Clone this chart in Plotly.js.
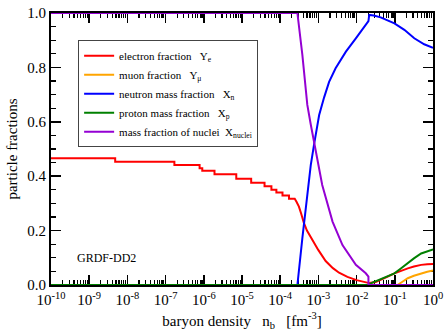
<!DOCTYPE html>
<html><head><meta charset="utf-8">
<script src="https://cdn.plot.ly/plotly-3.0.1.min.js"></script>
<style>body{margin:0;background:#fff}</style></head>
<body><div id="chart" style="width:444px;height:334px"></div>
<script>
// log10 of baryon density (fm^-3) and fractions
const yeLogN = [-10,-8.32,-8.32,-6.77,-6.77,-6.11,-6.11,-6.04,-6.04,-5.72,-5.72,-5.15,-5.15,-4.76,-4.76,-4.41,-4.41,-4.23,-4.23,-4.10,-4.10,-3.94,-3.94,-3.77,-3.77,-3.62,
  -3.57,-3.51,-3.45,-3.38,-3.30,-3.20,-3.10,-3.00,-2.81,-2.62,-2.46,-2.24,-2.00,-1.85,-1.71,-1.67,-1.50,-1.37,-1.20,-1.01,-0.85,-0.66,-0.50,-0.31,-0.15,0];
const yeVal = [0.466,0.466,0.453,0.453,0.441,0.441,0.429,0.429,0.420,0.420,0.407,0.407,0.391,0.391,0.376,0.376,0.363,0.363,0.350,0.350,0.340,0.340,0.329,0.329,0.317,0.317,
  0.305,0.288,0.262,0.228,0.200,0.175,0.152,0.128,0.088,0.062,0.045,0.030,0.018,0.012,0.008,0.007,0.011,0.018,0.030,0.043,0.052,0.061,0.068,0.074,0.076,0.077];

const ymuLogN = [-10,-0.93,-0.80,-0.66,-0.50,-0.31,-0.15,0];
const ymuVal  = [0,0,0.012,0.025,0.034,0.043,0.049,0.053];

const xnLogN = [-10,-3.55,-3.42,-3.29,-3.20,-3.11,-2.98,-2.85,-2.72,-2.55,-2.28,-2.02,-1.85,-1.71,-1.69,-1.67,-1.55,-1.37,-1.20,-1.01,-0.75,-0.49,-0.23,0];
const xnVal  = [0,0,0.172,0.343,0.441,0.520,0.625,0.690,0.747,0.797,0.858,0.907,0.940,0.966,0.970,0.993,0.991,0.984,0.975,0.962,0.938,0.907,0.885,0.872];

const xpLogN = [-10,-1.69,-1.60,-1.37,-1.20,-1.01,-0.85,-0.66,-0.50,-0.31,-0.15,0];
const xpVal  = [0,0,0.008,0.021,0.030,0.043,0.060,0.082,0.098,0.116,0.125,0.131];

const xnucLogN = [-10,-3.55,-3.42,-3.29,-3.20,-3.11,-2.98,-2.90,-2.63,-2.37,-2.02,-1.76,-1.69,-1.69,0];
const xnucVal  = [1,1,0.846,0.662,0.590,0.520,0.430,0.368,0.233,0.147,0.074,0.043,0.031,0,0];

const seriesNames = [
  'electron fraction\u00a0\u00a0\u00a0Y<sub>e</sub>',
  'muon fraction\u00a0\u00a0\u00a0Y<sub>\u03bc</sub>',
  'neutron mass fraction\u00a0\u00a0\u00a0X<sub>n</sub>',
  'proton mass fraction\u00a0\u00a0\u00a0X<sub>p</sub>',
  'mass fraction of nuclei\u00a0\u00a0X<sub>nuclei</sub>'
];
const seriesColors = ['#ff0000','#ffa500','#0000ff','#008000','#9400d3'];
const tickExps = [-10,-9,-8,-7,-6,-5,-4,-3,-2,-1,0];
const tickText = tickExps.map(e => '10<sup>' + e + '</sup>');
const tickVals = tickExps.map(e => Math.pow(10, e));

const toN = a => a.map(v => Math.pow(10, v));
const sets = [[yeLogN,yeVal],[ymuLogN,ymuVal],[xnLogN,xnVal],[xpLogN,xpVal],[xnucLogN,xnucVal]];
const traces = sets.map((s,i) => ({
  x: toN(s[0]), y: s[1], type:'scatter', mode:'lines', name: seriesNames[i],
  line:{color: seriesColors[i], width:2}, cliponaxis:false
}));

const font = 'Liberation Serif, Times New Roman, serif';
const layout = {
  width:444, height:334,
  margin:{l:51, r:11, t:13, b:49},
  paper_bgcolor:'#fff', plot_bgcolor:'#fff',
  font:{family:font, color:'#000'},
  showlegend:true,
  legend:{x:0.071, y:0.90, xanchor:'left', yanchor:'top', bgcolor:'#fff', bordercolor:'#444', borderwidth:1,
    font:{family:font, size:11, color:'#000'}, tracegroupgap:0},
  xaxis:{type:'log', range:[-10,0], showline:true, linewidth:2, linecolor:'#000', mirror:'allticks',
    ticks:'inside', ticklen:10, tickwidth:1.5, tickcolor:'#000',
    tickmode:'array', tickvals:tickVals, ticktext:tickText,
    minor:{dtick:'D1', ticks:'inside', ticklen:5, tickwidth:1.2, tickcolor:'#000', showgrid:false},
    showgrid:false, zeroline:false, layer:'below traces',
    tickfont:{family:font, size:15, color:'#000'},
    title:{text:'baryon density\u00a0\u00a0\u00a0n<sub>b</sub>\u00a0\u00a0\u00a0[fm<sup>-3</sup>]', font:{family:font, size:15, color:'#000'}, standoff:8}
  },
  yaxis:{range:[0,1], showline:true, linewidth:2, linecolor:'#000', mirror:'allticks',
    ticks:'inside', ticklen:10, tickwidth:1.5, tickcolor:'#000', dtick:0.2, tickformat:'.1f',
    minor:{dtick:0.05, ticks:'inside', ticklen:5, tickwidth:1.2, tickcolor:'#000', showgrid:false},
    showgrid:false, zeroline:false, layer:'below traces',
    tickfont:{family:font, size:15, color:'#000'},
    title:{text:'particle fractions', font:{family:font, size:15, color:'#000'}, standoff:6}
  },
  annotations:[{text:'GRDF-DD2', xref:'paper', yref:'paper', x:0.063, y:0.099, xanchor:'left', yanchor:'middle',
    showarrow:false, font:{family:font, size:12, color:'#000'}}]
};
Plotly.newPlot('chart', traces, layout, {displayModeBar:false, staticPlot:true});
</script></body></html>
